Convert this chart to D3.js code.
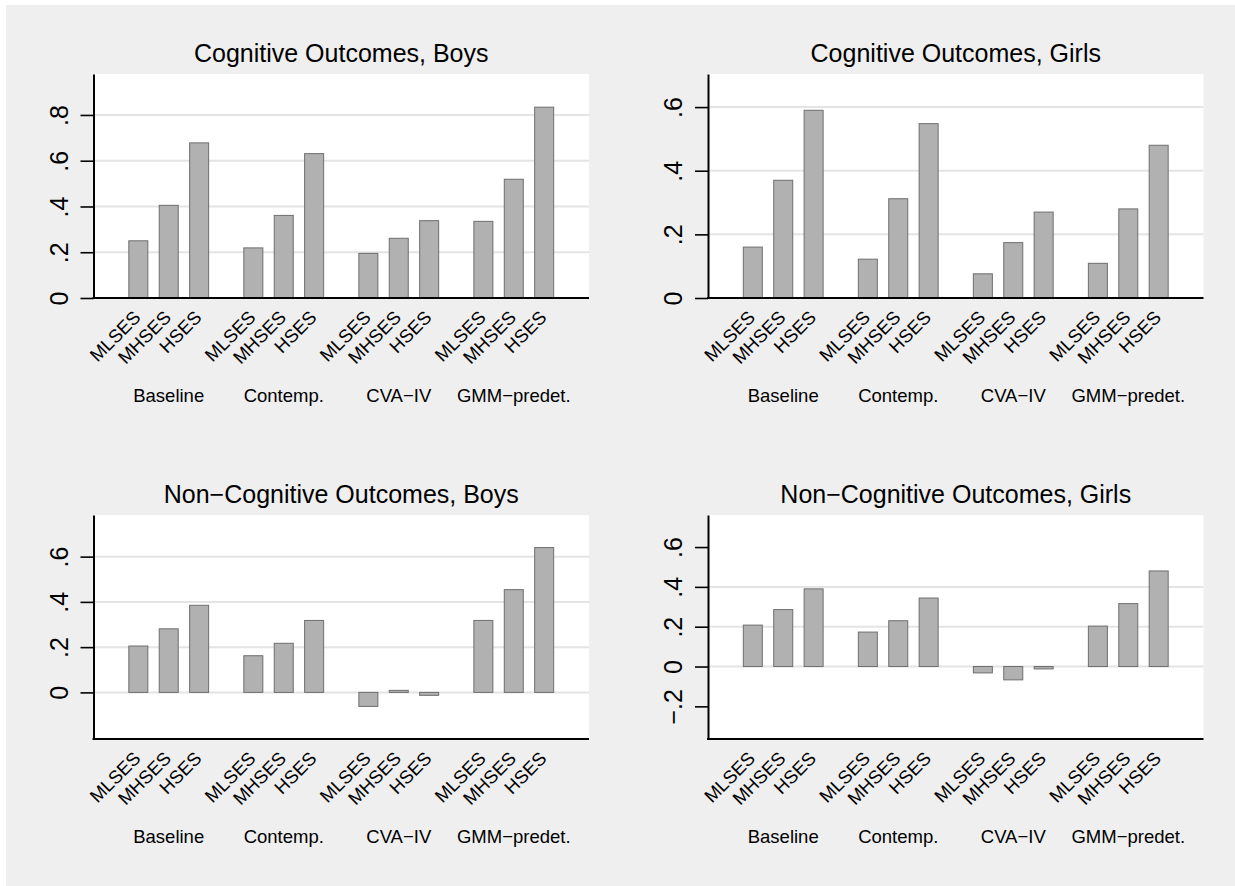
<!DOCTYPE html>
<html>
<head>
<meta charset="utf-8">
<script src="https://cdn.jsdelivr.net/npm/d3@7"></script>
<style>
  body { margin: 0; background: #ffffff; }
  svg { display: block; }
  text { font-family: "Liberation Sans", Arial, Helvetica, sans-serif; fill: #000; }
</style>
</head>
<body>
<svg id="chart" width="1235" height="886"></svg>
<script>
// Estimation methods (bar groups) and SES categories (bars within a group)
const groups = ["Baseline", "Contemp.", "CVA\u2212IV", "GMM\u2212predet."];
const series = ["MLSES", "MHSES", "HSES"];

// Coefficients per method: [MLSES, MHSES, HSES]
const cogBoys = [
  [0.250, 0.405, 0.678],
  [0.219, 0.361, 0.631],
  [0.195, 0.261, 0.338],
  [0.335, 0.519, 0.834]
];
const cogGirls = [
  [0.160, 0.370, 0.590],
  [0.122, 0.312, 0.548],
  [0.076, 0.174, 0.270],
  [0.109, 0.280, 0.480]
];
const nonCogBoys = [
  [0.205, 0.281, 0.385],
  [0.162, 0.217, 0.318],
  [-0.062, 0.009, -0.013],
  [0.318, 0.454, 0.640]
];
const nonCogGirls = [
  [0.208, 0.286, 0.390],
  [0.173, 0.230, 0.344],
  [-0.032, -0.067, -0.012],
  [0.203, 0.316, 0.480]
];

const panelTitles = [
  "Cognitive Outcomes, Boys",
  "Cognitive Outcomes, Girls",
  "Non\u2212Cognitive Outcomes, Boys",
  "Non\u2212Cognitive Outcomes, Girls"
];
const panelValues = [cogBoys, cogGirls, nonCogBoys, nonCogGirls];
const panelDomains = [[0, 0.979], [0, 0.704], [-0.206, 0.784], [-0.364, 0.761]];
const panelTicks = [
  [0, 0.2, 0.4, 0.6, 0.8],
  [0, 0.2, 0.4, 0.6],
  [0, 0.2, 0.4, 0.6],
  [-0.2, 0, 0.2, 0.4, 0.6]
];
const panelGrid = [
  [0.2, 0.4, 0.6, 0.8],
  [0.2, 0.4, 0.6],
  [0, 0.2, 0.4, 0.6],
  [0, 0.2, 0.4]
];

// Stata-style tick labels: "0", ".2", "−.2"
const fmtTick = v => {
  if (Math.abs(v) < 1e-9) return "0";
  const s = String(+Math.abs(v).toFixed(2)).replace(/^0/, "");
  return (v < 0 ? "\u2212" : "") + s;
};

const svg = d3.select("#chart");

// Graph region background
svg.append("rect")
  .attr("x", 6).attr("y", 5)
  .attr("width", 1235 - 6).attr("height", 886 - 5)
  .attr("fill", "#efefef");

const plotW = 495.5, plotH = 224;
const origins = [[93.5, 74], [708, 74], [93.5, 515], [708, 515]];

panelValues.forEach((values, i) => {
  const [ox, oy] = origins[i];
  const g = svg.append("g").attr("transform", `translate(${ox},${oy})`);

  const x0 = d3.scaleBand().domain(groups).range([0, plotW])
    .paddingInner(0).paddingOuter(0.154);
  const x1 = d3.scaleBand().domain(series).range([0, x0.bandwidth()])
    .paddingInner(0.375).paddingOuter(0.579);
  const y = d3.scaleLinear().domain(panelDomains[i]).range([plotH, 0]);

  // Plot region
  g.append("rect")
    .attr("x", 0).attr("y", 0)
    .attr("width", plotW).attr("height", plotH)
    .attr("fill", "#ffffff");

  // Horizontal grid lines
  g.selectAll("line.grid").data(panelGrid[i]).join("line")
    .attr("class", "grid")
    .attr("x1", 0).attr("x2", plotW)
    .attr("y1", d => y(d)).attr("y2", d => y(d))
    .attr("stroke", "#e4e4e4").attr("stroke-width", 2);

  // Bars
  const cells = [];
  groups.forEach((grp, gi) => series.forEach((s, si) => {
    cells.push({ grp, s, v: values[gi][si] });
  }));

  g.selectAll("rect.bar").data(cells).join("rect")
    .attr("class", "bar")
    .attr("x", d => x0(d.grp) + x1(d.s))
    .attr("width", x1.bandwidth())
    .attr("y", d => Math.min(y(d.v), y(0)))
    .attr("height", d => Math.abs(y(d.v) - y(0)))
    .attr("fill", "#b1b1b1")
    .attr("stroke", "#6e6e6e")
    .attr("stroke-width", 1);

  // Y axis
  const yAxis = g.append("g")
    .call(d3.axisLeft(y).tickValues(panelTicks[i]).tickFormat(fmtTick)
      .tickSize(13).tickSizeOuter(0));
  yAxis.select(".domain").attr("stroke", "#000").attr("stroke-width", 2);
  yAxis.selectAll(".tick line").attr("stroke", "#000").attr("stroke-width", 1.6);
  yAxis.selectAll(".tick text")
    .attr("x", null).attr("dy", null)
    .attr("transform", "translate(-26,0) rotate(-90)")
    .attr("text-anchor", "middle")
    .style("font-size", "25px")
    .style("font-family", "\"Liberation Sans\", Arial, sans-serif")
    .attr("fill", "#000");

  // X axis line
  g.append("line")
    .attr("x1", -1).attr("x2", plotW)
    .attr("y1", plotH).attr("y2", plotH)
    .attr("stroke", "#000").attr("stroke-width", 2);

  // Bar labels (rotated 45°)
  g.selectAll("text.barlab").data(cells).join("text")
    .attr("class", "barlab")
    .attr("text-anchor", "end")
    .attr("transform", d => {
      const cx = x0(d.grp) + x1(d.s) + x1.bandwidth() / 2;
      return `translate(${cx + 3.5},${plotH + 20.5}) rotate(-45)`;
    })
    .style("font-size", "18.5px")
    .text(d => d.s);

  // Group labels
  g.selectAll("text.grplab").data(groups).join("text")
    .attr("class", "grplab")
    .attr("text-anchor", "middle")
    .attr("x", d => x0(d) + x0.bandwidth() / 2)
    .attr("y", plotH + 104)
    .style("font-size", "18.5px")
    .text(d => d);

  // Panel title
  g.append("text")
    .attr("text-anchor", "middle")
    .attr("x", plotW / 2)
    .attr("y", -12)
    .style("font-size", "25px")
    .text(panelTitles[i]);
});
</script>
</body>
</html>
